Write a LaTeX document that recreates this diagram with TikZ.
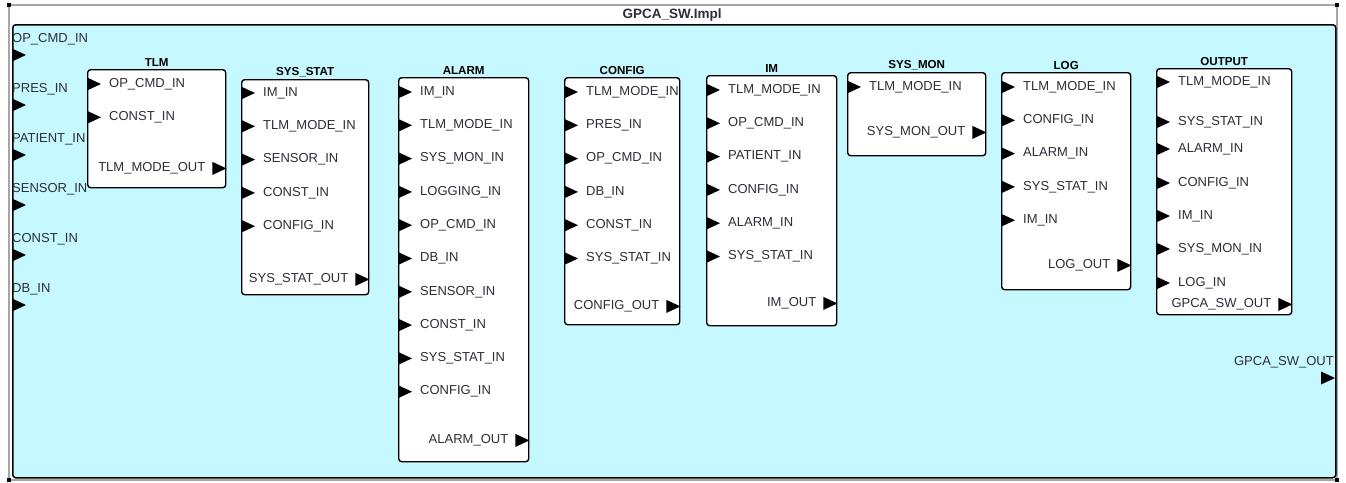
\documentclass[tikz,border=0pt]{standalone}
\usepackage{fontspec}
\setmainfont{Liberation Sans}
\usetikzlibrary{positioning}
\definecolor{canvas}{RGB}{198,248,255}
\definecolor{txt}{RGB}{45,45,55}

\begin{document}
\begin{tikzpicture}[x=1pt, y=-1pt, font=\fontsize{13}{15}\selectfont,
  block/.style={draw, line width=1.4pt, rounded corners=3pt, fill=white, anchor=north west, inner sep=0pt},
  title/.style={font=\bfseries\fontsize{11.6}{13}\selectfont, anchor=south, inner sep=1pt, yshift=1pt},
  inlabel/.style={anchor=west, inner sep=0pt, text=txt, xshift=22pt},
  outlabel/.style={anchor=east, inner sep=0pt, text=txt, xshift=-21pt},
  corner/.style={fill=black, minimum size=4pt, inner sep=0pt}]
\useasboundingbox (0,0) rectangle (1346,482);

% outer frame
\draw[gray!70, line width=1.2pt] (9,5) rectangle (1337,480);
\foreach \c/\x/\y in {nw/9/5, ne/1337/5, sw/9/480, se/1337/480}
  \node[corner] (c-\c) at (\x,\y) {};
\node[font=\bfseries\fontsize{13.5}{15}\selectfont, text=txt] (sysname) at (672,15) {GPCA\_SW.Impl};
\node[draw, line width=1.5pt, rounded corners=3pt, fill=canvas, anchor=north west, inner sep=0pt,
  minimum width=1323pt, minimum height=453pt] (impl) at (12,24) {};

% system ports
\foreach \p [count=\i from 0] in {OP\_CMD\_IN, PRES\_IN, PATIENT\_IN, SENSOR\_IN, CONST\_IN, DB\_IN} {
  \node[anchor=west, inner sep=0pt, text=txt] (sys-in-\i) at (12,39+50*\i) {\p};
  \fill (12,48.5+50*\i) -- (26,55+50*\i) -- (12,61.5+50*\i) -- cycle;
}
\node[anchor=east, inner sep=0pt, text=txt] (sys-out) at (1334,362) {GPCA\_SW\_OUT};
\fill (1321,371.5) -- (1335,378) -- (1321,384.5) -- cycle;

% subcomponents
\node[block, minimum width=138pt, minimum height=118pt, label={[title]above:TLM}] (tlm) at (87,69) {};
\node[block, minimum width=127pt, minimum height=215pt, label={[title]above:SYS\_STAT}] (sysstat) at (241,79) {};
\node[block, minimum width=130pt, minimum height=384pt, label={[title]above:ALARM}] (alarm) at (398,77) {};
\node[block, minimum width=115pt, minimum height=247pt, label={[title]above:CONFIG}] (config) at (564,77) {};
\node[block, minimum width=130pt, minimum height=250pt, label={[title]above:IM}] (im) at (706,75) {};
\node[block, minimum width=138pt, minimum height=83pt, label={[title]above:SYS\_MON}] (sysmon) at (847,72) {};
\node[block, minimum width=129pt, minimum height=217pt, label={[title]above:LOG}] (log) at (1001,72) {};
\node[block, minimum width=135pt, minimum height=246pt, label={[title]above:OUTPUT}] (output) at (1156,68) {};

% input ports
\foreach \b/\t/\ports in {
  tlm/15/{OP\_CMD\_IN, CONST\_IN},
  sysstat/14/{IM\_IN, TLM\_MODE\_IN, SENSOR\_IN, CONST\_IN, CONFIG\_IN},
  alarm/15/{IM\_IN, TLM\_MODE\_IN, SYS\_MON\_IN, LOGGING\_IN, OP\_CMD\_IN, DB\_IN, SENSOR\_IN, CONST\_IN, SYS\_STAT\_IN, CONFIG\_IN},
  config/15/{TLM\_MODE\_IN, PRES\_IN, OP\_CMD\_IN, DB\_IN, CONST\_IN, SYS\_STAT\_IN},
  im/15/{TLM\_MODE\_IN, OP\_CMD\_IN, PATIENT\_IN, CONFIG\_IN, ALARM\_IN, SYS\_STAT\_IN},
  sysmon/15/{TLM\_MODE\_IN},
  log/15/{TLM\_MODE\_IN, CONFIG\_IN, ALARM\_IN, SYS\_STAT\_IN, IM\_IN}}
  \foreach \p [count=\i from 0] in \ports {
    \path (\b.north west) ++(0,\t+33.3*\i) coordinate (\b-pin-\i);
    \fill (\b-pin-\i) ++(0,-6.5) -- ++(14,6.5) -- ++(-14,6.5) -- cycle;
    \node[inlabel] (\b-in-\i) at (\b-pin-\i) {\p};
  }
\foreach \p/\dy [count=\i from 0] in {TLM\_MODE\_IN/14, SYS\_STAT\_IN/54, ALARM\_IN/81, CONFIG\_IN/115, IM\_IN/148, SYS\_MON\_IN/181, LOG\_IN/215} {
  \path (output.north west) ++(0,\dy) coordinate (output-pin-\i);
  \fill (output-pin-\i) ++(0,-6.5) -- ++(14,6.5) -- ++(-14,6.5) -- cycle;
  \node[inlabel] (output-in-\i) at (output-pin-\i) {\p};
}

% output ports
\foreach \b/\dy/\p in {tlm/20/TLM\_MODE\_OUT, sysstat/16/SYS\_STAT\_OUT, alarm/22/ALARM\_OUT,
  config/19/CONFIG\_OUT, im/23/IM\_OUT, sysmon/24/SYS\_MON\_OUT, log/25/LOG\_OUT, output/11/GPCA\_SW\_OUT} {
  \path (\b.south east) ++(0,-\dy) coordinate (\b-pout);
  \fill (\b-pout) ++(-14,-6.5) -- ++(14,6.5) -- ++(-14,6.5) -- cycle;
  \node[outlabel] (\b-out) at (\b-pout) {\p};
}
\end{tikzpicture}
\end{document}
